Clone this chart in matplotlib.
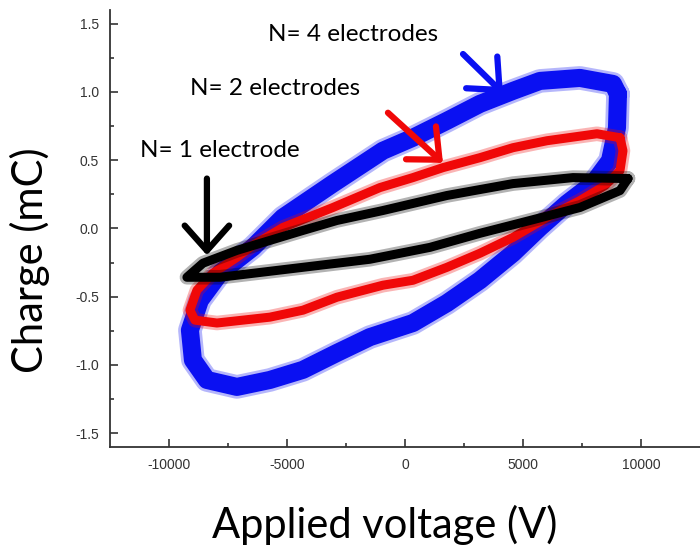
import matplotlib.pyplot as plt
import numpy as np

# charge-voltage loops, V in volts, Q in mC
v_n4 = [9025, 8814, 7415, 5720, 4576, 3178, 1780, 339, -932, -3051, -5169,
        -6441, -7839, -8686, -9110, -8983, -8390, -7119, -5720, -4322, -2881,
        -1483, 339, 1780, 3178, 4576, 5720, 6864, 7966, 8686, 8983, 9025]
q_n4 = [0.985, 1.058, 1.102, 1.080, 1.007, 0.912, 0.788, 0.664, 0.569, 0.328,
        0.080, -0.139, -0.328, -0.526, -0.745, -0.964, -1.110, -1.161, -1.110,
        -1.036, -0.912, -0.796, -0.693, -0.547, -0.380, -0.182, 0.007, 0.182,
        0.328, 0.496, 0.737, 0.985]

v_n2 = [9110, 8136, 6017, 4576, 3178, 1610, 339, -1059, -3051, -5169, -6441,
        -7119, -8136, -8814, -9110, -8898, -7966, -5720, -4322, -2881, -932,
        339, 1780, 3178, 4576, 6017, 7415, 8475, 9110, 9237, 9110]
q_n2 = [0.664, 0.693, 0.642, 0.591, 0.518, 0.445, 0.372, 0.299, 0.153, 0.007,
        -0.124, -0.212, -0.328, -0.453, -0.599, -0.672, -0.693, -0.650, -0.599,
        -0.504, -0.416, -0.380, -0.285, -0.182, -0.066, 0.080, 0.204, 0.314,
        0.423, 0.569, 0.664]

v_n1 = [9449, 7119, 4576, 1780, -932, -2881, -4322, -5720, -7119, -8559,
        -9237, -7839, -5720, -3602, -1483, 1059, 3178, 5297, 7415, 9110, 9449]
q_n1 = [0.365, 0.372, 0.328, 0.241, 0.131, 0.058, -0.015, -0.088, -0.161,
        -0.255, -0.358, -0.358, -0.314, -0.270, -0.226, -0.139, -0.036, 0.058,
        0.153, 0.277, 0.365]

x_ticks = [-10000, -5000, 0, 5000, 10000]
y_ticks = [-1.5, -1.0, -0.5, 0.0, 0.5, 1.0, 1.5]

labels = ['N= 4 electrodes ',
          'N= 2 electrodes ',
          'N= 1 electrode ']

big_font = ['Lato', 'DejaVu Sans']

fig = plt.figure(figsize=(7, 5.51), dpi=100)
ax = fig.add_axes([0.157, 0.189, 0.843, 0.793])

# each trace: soft halo for the noisy edge, then the solid core
for v, q, c, w in [(v_n4, q_n4, '#0a10f2', 13),
                   (v_n2, q_n2, '#f00808', 6.5),
                   (v_n1, q_n1, 'black', 6.5)]:
    ax.plot(v, q, color=c, lw=w + 4, alpha=0.3, solid_joinstyle='round',
            solid_capstyle='round')
    ax.plot(v, q, color=c, lw=w, solid_joinstyle='round',
            solid_capstyle='round')

ax.set_xlim(-12500, 12500)
ax.set_ylim(-1.6, 1.6)
ax.set_xticks(x_ticks)
ax.set_yticks(y_ticks)
ax.set_xticklabels([str(t) for t in x_ticks])
ax.set_yticklabels(['%.1f' % t for t in y_ticks])
ax.set_xticks([-7500, -2500, 2500, 7500], minor=True)
ax.set_yticks([-1.25, -0.75, -0.25, 0.25, 0.75, 1.25], minor=True)
ax.tick_params(which='both', direction='in', color='#333333', width=1.2)
ax.tick_params(which='major', length=6, pad=8, labelsize=10,
               labelcolor='#333333')
ax.tick_params(which='minor', length=3)
for lab in ax.get_xticklabels() + ax.get_yticklabels():
    lab.set_family('Liberation Sans')
ax.spines['top'].set_visible(False)
ax.spines['right'].set_visible(False)
for s in ['left', 'bottom']:
    ax.spines[s].set_linewidth(1.3)
    ax.spines[s].set_color('#333333')

# arrows pointing at each loop
arrow_kw = dict(arrowstyle='->,head_length=0.9,head_width=0.8', lw=4.5,
                mutation_scale=20, shrinkA=0, shrinkB=0)
ax.annotate('', xy=(-8390, -0.197), xytext=(-8390, 0.365),
            arrowprops=dict(color='black', **arrow_kw))
ax.annotate('', xy=(1610, 0.48), xytext=(-720, 0.847),
            arrowprops=dict(color='#f00808', **arrow_kw))
ax.annotate('', xy=(4150, 0.99), xytext=(2460, 1.277),
            arrowprops=dict(color='#0a10f2', **arrow_kw))

ax.text(-5805, 1.423, labels[0], fontsize=17.5, family=big_font,
        ha='left', va='center')
ax.text(-9110, 1.022, labels[1], fontsize=17.5, family=big_font,
        ha='left', va='center')
ax.text(-11229, 0.569, labels[2], fontsize=17.5, family=big_font,
        ha='left', va='center')

fig.text(0.557, 0.047, 'Applied voltage (V) ', fontsize=30,
         family=big_font, ha='center', va='center')
fig.text(0.043, 0.537, 'Charge (mC) ', fontsize=30,
         family=big_font, ha='center', va='center', rotation=90)

fig.savefig('out.png', dpi=100)
